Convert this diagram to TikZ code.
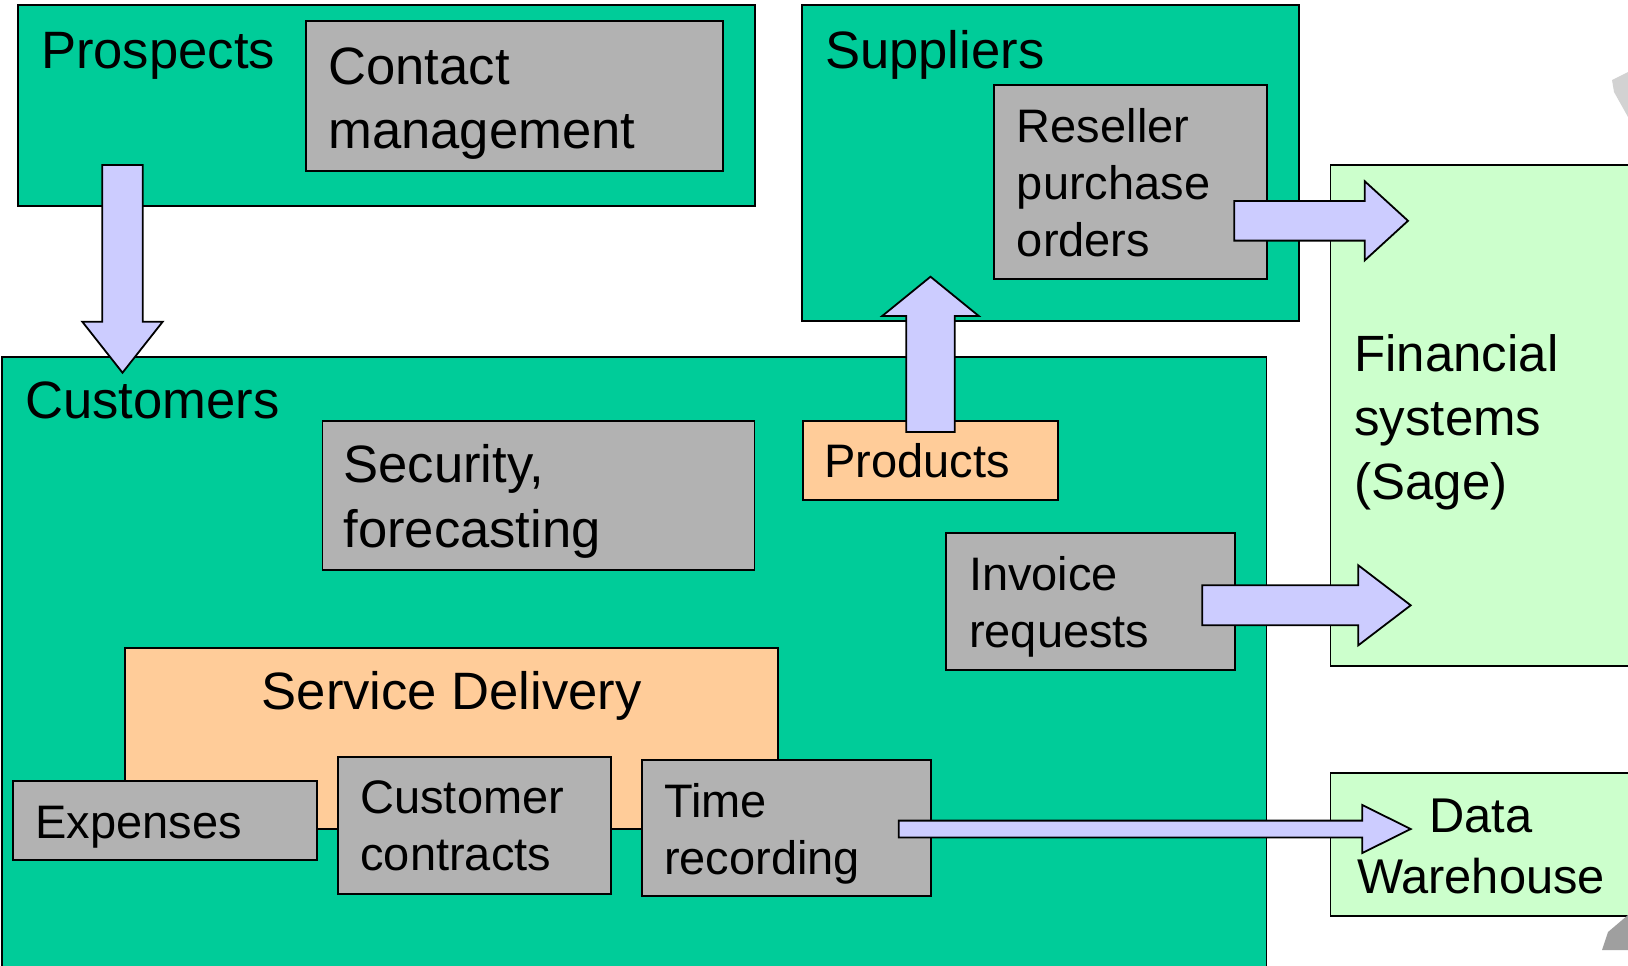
\documentclass[tikz,border=0pt]{standalone}
\usepackage{fontspec}
\setmainfont{Liberation Sans}
\usetikzlibrary{calc,fit}

\definecolor{custgreen}{HTML}{00CC99}
\definecolor{boxgray}{HTML}{B2B2B2}
\definecolor{peach}{HTML}{FFCC99}
\definecolor{palegreen}{HTML}{CCFFCC}
\definecolor{lavender}{HTML}{CCCCFF}

\tikzset{
  area/.style={draw=black, line width=0.9pt, rectangle, inner sep=0pt},
  group/.style={area, fill=custgreen},
  task/.style={area, fill=boxgray},
  module/.style={area, fill=peach},
  outside/.style={area, fill=palegreen},
  bigtext/.style={inner sep=0pt, align=left, font=\fontsize{26.3}{32.15}\selectfont},
  smalltext/.style={inner sep=0pt, align=left, font=\fontsize{23.5}{28.5}\selectfont},
  flow/.style={draw=black, line width=0.9pt, fill=lavender, line join=miter}
}

% fat arrow: from, to, shaft half width, head half width, head length
\newcommand{\blockarrow}[5]{%
  \coordinate (ba-head) at ($(#2)!#5!(#1)$);
  \draw[flow] ($(#1)!#3!90:(#2)$) -- ($(ba-head)!#3!90:(#2)$) -- ($(ba-head)!#4!90:(#2)$) -- (#2)
    -- ($(ba-head)!#4!-90:(#2)$) -- ($(ba-head)!#3!-90:(#2)$) -- ($(#1)!#3!-90:(#2)$) -- cycle;
}

\begin{document}
\begin{tikzpicture}[x=0.5pt,y=-0.5pt]
\useasboundingbox (0,0) rectangle (1628,965);
\clip (0,0) rectangle (1628,965);

% top row
\node[group, fit={(18,5) (755.3,205.7)}] (prospects) {};
\node[task, fit={(306,21.3) (723,170.7)}] (contact) {};
\node[group, fit={(802,5) (1299,320.7)}] (suppliers) {};
\node[task, fit={(994.3,85.3) (1266.7,279.3)}] (reseller) {};
\node[outside, fit={(1330.5,164.7) (1645,666)}] (financial) {};
\node[outside, fit={(1330.5,773) (1645,916)}] (warehouse) {};

% customers
\node[group, fit={(2.3,356.7) (1266.5,980)}] (customers) {};
\node[task, fit={(322.5,420.7) (754.5,570.3)}] (security) {};
\node[module, fit={(802.7,420.7) (1058,499.7)}] (products) {};
\node[task, fit={(946.3,533) (1234.7,669.7)}] (invoice) {};
\node[module, fit={(125,647.7) (778.3,828.7)}] (service) {};
\node[task, fit={(13,781) (317.3,860)}] (expenses) {};
\node[task, fit={(338.3,757) (610.7,893.7)}] (contracts) {};
\node[task, fit={(642.3,759.7) (930.7,896.3)}] (timerec) {};

% texts (base = last line)
\node[bigtext, anchor=base west] (t-prospects) at (40.7,68.3) {Prospects};
\node[bigtext, anchor=base west] (t-contact) at (328,148.3) {Contact\\management};
\node[bigtext, anchor=base west] (t-suppliers) at (824.7,68.3) {Suppliers};
\node[smalltext, anchor=base west] (t-reseller) at (1016.5,256.7) {Reseller\\purchase\\orders};
\node[bigtext, anchor=base west] (t-customers) at (25,418.3) {Customers};
\node[bigtext, anchor=base west] (t-security) at (343,547) {Security,\\forecasting};
\node[smalltext, anchor=base west] (t-products) at (823.7,477) {Products};
\node[smalltext, anchor=base west] (t-invoice) at (968.7,647) {Invoice\\requests};
\node[bigtext, anchor=base] (t-service) at (451.7,709.7) {Service Delivery};
\node[smalltext, anchor=base west] (t-expenses) at (35,838) {Expenses};
\node[smalltext, anchor=base west] (t-contracts) at (360,870.3) {Customer\\contracts};
\node[smalltext, anchor=base west] (t-timerec) at (663.7,874.7) {Time\\recording};
\node[bigtext, anchor=base west, font=\fontsize{25.5}{31.8}\selectfont] (t-financial) at (1354,499) {Financial\\systems\\(Sage)};
\node[bigtext, anchor=base, align=center, font=\fontsize{24.4}{30.5}\selectfont] (t-warehouse) at (1481,893.7) {Data\\Warehouse};

% arrow ends
\coordinate (pros-out) at (122.5,165);
\coordinate (cust-in) at (122.5,372.7);
\coordinate (prod-out) at (930.5,432);
\coordinate (supp-in) at (930.5,276.7);
\coordinate (resel-out) at (1234.3,220.8);
\coordinate (fin-in1) at (1408,220.8);
\coordinate (inv-out) at (1202.3,605.3);
\coordinate (fin-in2) at (1410.7,605.3);
\coordinate (time-out) at (898.7,829);
\coordinate (ware-in) at (1410.7,829);

\blockarrow{pros-out}{cust-in}{10.15pt}{20.1pt}{25.5pt}
\blockarrow{prod-out}{supp-in}{12.1pt}{24.15pt}{19.65pt}
\blockarrow{resel-out}{fin-in1}{9.9pt}{19.8pt}{21.65pt}
\blockarrow{inv-out}{fin-in2}{10pt}{20pt}{26.2pt}
\blockarrow{time-out}{ware-in}{4.2pt}{12pt}{24.2pt}

% clipped picture pieces at the right edge
\fill[gray!35] (1628,72) -- (1612,80) -- (1614,92) -- (1628,117) -- cycle;
\fill[gray!75] (1628,915) -- (1608,932) -- (1602,950) -- (1628,950) -- cycle;
\end{tikzpicture}
\end{document}
